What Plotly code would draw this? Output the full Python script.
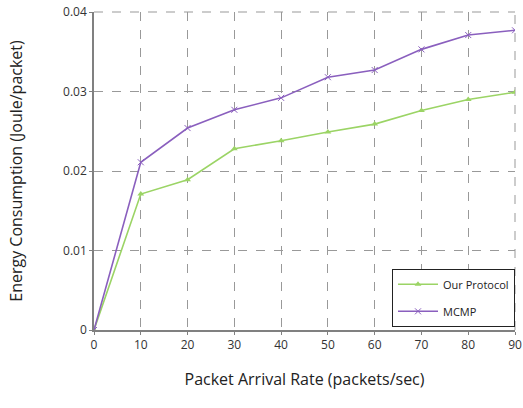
import plotly.graph_objects as go

rate = [0, 10, 20, 30, 40, 50, 60, 70, 80, 90]
our_protocol = [0, 0.0171, 0.0189, 0.0228, 0.0238, 0.0249, 0.0259, 0.0276, 0.0290, 0.0299]
mcmp = [0, 0.0211, 0.0254, 0.0277, 0.0292, 0.0318, 0.0327, 0.0353, 0.0371, 0.0377]
y_ticks = [0, 0.01, 0.02, 0.03, 0.04]
y_tick_labels = ["0", "0.01", "0.02", "0.03", "0.04"]

font = "Open Sans, Liberation Sans, sans-serif"
green = "#9BD465"
purple = "#8A5FBE"
grid = "#999999"

fig = go.Figure()
fig.add_trace(go.Scatter(
    x=rate, y=our_protocol, name="Our Protocol", mode="lines+markers",
    line=dict(color=green, width=1.6),
    marker=dict(symbol="triangle-up", size=6, color=green),
    legendgroup="a",
))
fig.add_trace(go.Scatter(
    x=rate, y=mcmp, name="MCMP", mode="lines+markers",
    line=dict(color=purple, width=1.6),
    marker=dict(symbol="x-thin", size=6, line=dict(color=purple, width=1)),
    legendgroup="b",
))

# dashed frame on top and right, like the reference's outer grid lines
fig.add_shape(type="line", xref="paper", yref="paper", x0=0, x1=1, y0=1, y1=1,
              line=dict(color=grid, width=1, dash="dash"), layer="below")
fig.add_shape(type="line", xref="paper", yref="paper", x0=1, x1=1, y0=0, y1=1,
              line=dict(color=grid, width=1, dash="dash"), layer="below")

fig.update_layout(
    width=523, height=408,
    margin=dict(l=94, r=8, t=12, b=78),
    paper_bgcolor="white", plot_bgcolor="white",
    font=dict(family=font, size=12, color="#333333"),
    xaxis=dict(
        range=[0, 90], tickvals=rate, showgrid=True, gridcolor=grid,
        griddash="dash", gridwidth=1, zeroline=False,
        showline=True, linecolor="#808080", linewidth=1.5,
        ticks="outside", ticklen=3, tickcolor="#808080",
        title=dict(text="Packet Arrival Rate (packets/sec)", font=dict(size=16, color="#222222"), standoff=22),
        automargin=False,
    ),
    yaxis=dict(
        range=[0, 0.04], tickvals=y_ticks, ticktext=y_tick_labels,
        showgrid=True, gridcolor=grid, griddash="dash", gridwidth=1,
        zeroline=False, showline=True, linecolor="#808080", linewidth=1.5,
        ticks="outside", ticklen=3, tickcolor="#808080",
        title=dict(text="Energy Consumption (Joule/packet)", font=dict(size=16, color="#222222"), standoff=36),
        automargin=False,
    ),
    legend=dict(
        x=1.0, y=0.01, xanchor="right", yanchor="bottom",
        bordercolor="#222222", borderwidth=1, bgcolor="white",
        font=dict(size=11, color="#222222"), tracegroupgap=8,
        traceorder="grouped", itemwidth=40,
    ),
)

fig.write_html(
    "out.html",
    config={"displayModeBar": False},
    post_script="document.body.style.margin='0px';document.body.style.overflow='hidden';",
)
